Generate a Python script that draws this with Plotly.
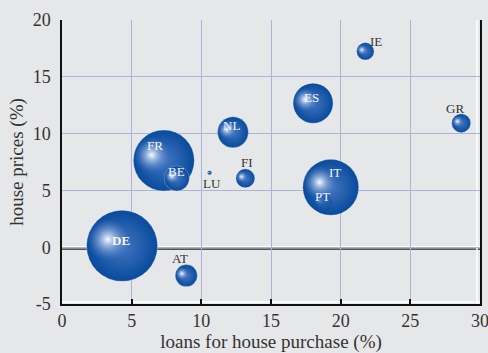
import math
import plotly.graph_objects as go

# Euro-area countries: loan growth vs house-price growth, bubble = weight
countries = ["DE", "FR", "IT", "ES", "NL", "BE", "AT", "GR", "FI", "PT", "IE", "LU"]
loans = [4.31, 7.31, 19.29, 18.02, 12.27, 8.24, 8.92, 28.65, 13.16, 18.73, 21.77, 10.59]
prices = [0.12, 7.63, 5.27, 12.68, 10.12, 6.06, -2.50, 10.92, 6.06, 3.95, 17.24, 6.55]
weights = [28.0, 20.7, 17.4, 8.9, 5.3, 3.5, 2.7, 2.0, 2.0, 1.8, 1.7, 0.09]

x_ticks = [0, 5, 10, 15, 20, 25, 30]
y_ticks = [-5, 0, 5, 10, 15, 20]

FONT = "Liberation Serif"

W, H = 488, 353
M = dict(l=62, r=8, t=20, b=49)
X_RANGE = [0, 30]
Y_RANGE = [-5, 20]
px_x = (W - M["l"] - M["r"]) / (X_RANGE[1] - X_RANGE[0])
px_y = (H - M["t"] - M["b"]) / (Y_RANGE[1] - Y_RANGE[0])

MAX_D = 71.0
def diameter(w):
    return MAX_D * math.sqrt(w / max(weights))

EDGE = "#074a9c"
BODY = "#4577c2"
GLOW_EDGE = "rgba(80,125,200,0)"
GLOW_CORE = "rgba(250,252,255,1)"

# each sphere = base disc + offset soft highlight, largest first
xs, ys, sizes, cols, gcols, lw, ops = [], [], [], [], [], [], []
order = sorted(range(len(countries)), key=lambda i: -weights[i])
for i in order:
    d = diameter(weights[i])
    r = d / 2
    faint = countries[i] == "PT"
    fade = 0.3 if faint else 1.0
    xs.append(loans[i]); ys.append(prices[i]); sizes.append(d)
    cols.append(EDGE); gcols.append(BODY)
    lw.append(0 if (faint or d < 6) else 0.8); ops.append(fade)
    xs.append(loans[i] - 0.40 * r / px_x); ys.append(prices[i] + 0.18 * r / px_y)
    sizes.append(d * 0.6)
    cols.append(GLOW_EDGE); gcols.append(GLOW_CORE); lw.append(0); ops.append(fade)

fig = go.Figure()
fig.add_trace(go.Scatter(
    x=xs, y=ys, mode="markers", hoverinfo="skip", showlegend=False,
    marker=dict(size=sizes, color=cols, opacity=ops,
                gradient=dict(type="radial", color=gcols),
                line=dict(width=lw, color="rgba(255,255,255,0.35)")),
))

# label placement (pixel offsets from each bubble centre)
label_shift = {
    "DE": (-1, 5), "FR": (-9, 15), "IT": (4, 15), "ES": (-2, 6), "NL": (-1, 7),
    "BE": (0, 7), "AT": (-6, 17), "GR": (-6, 15), "FI": (2, 16), "PT": (0, 6),
    "IE": (11, 10), "LU": (2, -11),
}
inside = {"DE", "FR", "IT", "ES", "NL", "BE", "PT"}
for c, xv, yv in zip(countries, loans, prices):
    dx, dy = label_shift[c]
    txt = "<b>%s</b>" % c if c == "DE" else c
    fig.add_annotation(
        x=xv, y=yv, text=txt, showarrow=False, xshift=dx, yshift=dy,
        font=dict(family=FONT, size=13,
                  color="#f4f6fb" if c in inside else "#333333"),
    )

# embossed zero line, bottom axis and right frame
fig.add_shape(type="line", xref="x", yref="y", x0=0, x1=30, y0=0, y1=0,
              line=dict(color="white", width=2.5), layer="below")
fig.add_shape(type="line", xref="x", yref="y", ysizemode="pixel", yanchor=0,
              x0=0, x1=30, y0=-2, y1=-2, line=dict(color="#222222", width=1.2), layer="below")
fig.add_shape(type="line", xref="x", yref="y", ysizemode="pixel", yanchor=-5,
              x0=0, x1=30, y0=2, y1=2, line=dict(color="white", width=1.5), layer="below")
fig.add_shape(type="line", xref="x", yref="y", xsizemode="pixel", xanchor=30,
              x0=-3, x1=-3, y0=-5, y1=20, line=dict(color="white", width=1.5), layer="below")

fig.update_layout(
    width=W, height=H, margin=M,
    paper_bgcolor="#e6e7e9", plot_bgcolor="#e6e7e9",
    font=dict(family=FONT, size=18, color="#333333"),
    showlegend=False,
)
fig.update_xaxes(
    range=X_RANGE, tickvals=x_ticks, ticktext=[str(v) for v in x_ticks],
    automargin=False, ticklabeloverflow="allow",
    showgrid=True, gridcolor="#a9b4da", gridwidth=1, zeroline=False,
    showline=True, linecolor="#111111", linewidth=1.5,
    ticks="inside", ticklen=5, tickwidth=1.5, tickcolor="#111111",
    title=dict(text="loans for house purchase (%)", standoff=6,
               font=dict(family=FONT, size=19, color="#333333")),
    tickfont=dict(family=FONT, size=18, color="#333333"),
)
fig.update_yaxes(
    range=Y_RANGE, tickvals=y_ticks, ticktext=[str(v) for v in y_ticks],
    automargin=False,
    showgrid=True, gridcolor="#a9b4da", gridwidth=1, zeroline=False,
    showline=True, mirror=True, linecolor="#111111", linewidth=1.5,
    ticks="", ticklabelstandoff=6,
    title=dict(text="house prices (%)", standoff=4,
               font=dict(family=FONT, size=19, color="#333333")),
    tickfont=dict(family=FONT, size=18, color="#333333"),
)

fig.write_html("out.html")
